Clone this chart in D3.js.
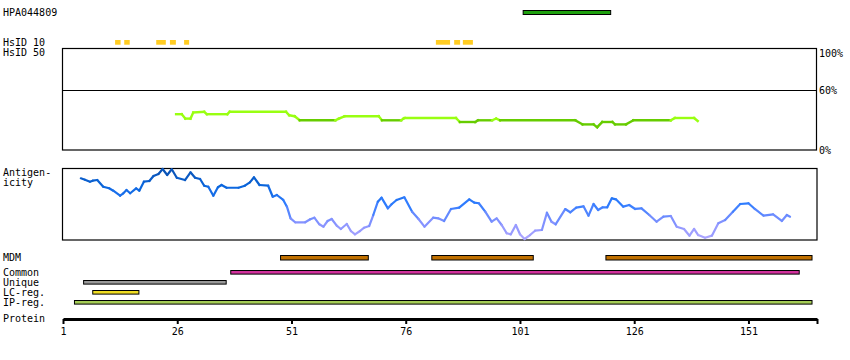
<!DOCTYPE html>
<html>
<head>
<meta charset="utf-8">
<script src="https://cdn.jsdelivr.net/npm/d3@7/dist/d3.min.js"></script>
<style>
  html, body { margin: 0; padding: 0; background: #fff; }
  svg text { font-family: "DejaVu Sans Mono", monospace; font-size: 10px; fill: #000; }
</style>
</head>
<body>
<svg id="chart" width="850" height="360"></svg>
<script>
// ---------------- data ----------------
const proteinLength = 165;
const axisTicks = [1, 26, 51, 76, 101, 126, 151];
const percentTicks = [0, 60, 100];

const antibodyName = "HPA044809";
const antibodyRegion = [101.7, 120.85];

const hsid10Segments = [[12.4, 13.6], [14.4, 15.6], [21.4, 23.5], [24.4, 25.7], [27.5, 28.6],
                        [82.6, 85.7], [86.6, 87.9], [88.5, 90.7]];

// similarity (% identity) [residue, value]
const similarity = [[25.75,35.8],[27.0,35.8],[27.76,31.4],[28.9,31.4],[29.5,37.5],[31.9,38.2],[32.5,35.8],
  [36.95,35.8],[37.5,38.2],[49.8,38.2],[50.5,34.8],[51.7,33.7],[52.8,29.7],[60.6,29.7],[61.35,31.4],
  [62.6,33.7],[70.1,33.7],[70.8,29.7],[75.0,29.7],[75.5,31.4],[75.8,32],[87.0,32],[87.85,28],[91.2,28],
  [91.8,29.7],[94.9,29.7],[95.8,31.4],[96.65,29.7],[113.1,29.7],[114.7,25.6],[117.1,25.6],[117.9,22.8],
  [119.0,28],[121.2,28],[121.8,25.6],[124.2,25.6],[125.8,29.7],[134.0,29.7],[134.9,32],[139.1,32],[139.9,29]];

// antigenicity score [residue, value]
const antigenicity = [[4.9,85.7],[5.8,83.7],[6.9,81.0],[7.5,82.4],[8.5,83.3],[9.8,74.0],[11.1,71.8],[12.0,68.5],
  [13.5,61.5],[14.2,64.9],[14.9,69.4],[15.7,64.9],[17.0,71.8],[17.7,68.5],[18.7,81.0],[19.9,81.9],[20.8,88.9],
  [21.9,91.7],[22.8,98.6],[23.8,90.3],[24.8,98.2],[25.9,86.5],[27.7,83.3],[28.9,94.0],[29.9,86.5],[31.0,84.7],
  [31.9,75.4],[32.8,74.0],[33.9,61.5],[34.9,73.2],[35.7,76.4],[36.8,72.6],[39.4,72.6],[40.8,75.4],[41.9,80.1],
  [42.8,87.1],[44.0,76.4],[45.9,75.4],[46.9,60.1],[47.8,62.5],[49.2,55.6],[50.0,46.3],[50.8,30.1],[51.8,24.6],
  [54.0,24.6],[55.1,28.8],[56.0,31.0],[57.1,21.8],[58.0,18.5],[58.9,26.4],[59.8,29.2],[60.9,19.9],[61.8,15.3],
  [63.1,22.2],[64.0,12.5],[64.9,7.9],[66.0,12.5],[66.9,17.1],[68.0,19.4],[68.9,34.7],[69.9,53.2],[70.7,58.8],
  [72.1,44.0],[72.9,49.6],[74.0,55.6],[75.7,59.3],[77.4,39.3],[78.8,29.2],[80.1,18.5],[82.0,31.0],[83.1,30.1],
  [84.4,26.4],[85.9,43.1],[87.7,44.9],[89.9,56.5],[91.0,51.8],[92.0,51.0],[93.4,39.3],[94.8,25.4],[95.9,30.1],
  [97.0,20.8],[98.1,9.3],[99.0,7.9],[100.1,20.8],[101.0,7.9],[102.0,1.4],[103.2,6.9],[104.3,12.9],[105.8,13.9],
  [106.9,37.9],[107.9,25.4],[108.8,21.8],[110.9,43.0],[112.0,38.5],[113.3,44.9],[114.9,46.8],[116.0,33.8],
  [117.1,50.0],[118.1,41.7],[119.1,45.4],[120.1,45.4],[121.1,57.9],[122.0,56.5],[123.6,46.3],[124.9,48.6],
  [126.2,43.1],[127.6,44.0],[129.3,34.7],[130.9,25.4],[132.4,32.4],[134.0,33.3],[135.3,18.5],[136.9,15.3],
  [138.1,6.0],[139.1,15.3],[140.0,6.9],[141.5,3.2],[143.0,6.0],[144.4,23.2],[145.9,27.8],[147.6,39.3],
  [149.2,50.0],[151.0,51.0],[152.4,43.1],[154.3,33.8],[156.4,35.7],[158.3,26.4],[159.4,34.7],[160.1,32.4]];

// feature tracks
const mdmSegments = [[48.5, 67.7], [81.6, 103.8], [119.7, 164.8]];
const commonSegments = [[37.6, 162.0]];
const uniqueSegments = [[5.4, 36.6]];
const lcRegSegments = [[7.4, 17.5]];
const ipRegSegments = [[3.4, 164.8]];

// ---------------- drawing ----------------
const svg = d3.select("#chart");
const x = d3.scaleLinear().domain([1, proteinLength + 1]).range([63, 817]);
const yPct = d3.scaleLinear().domain([0, 100]).range([150, 50]);
const yAnt = d3.scaleLinear().domain([0, 100]).range([240, 168]);

// left labels
const labels = [
  [antibodyName, 16], ["HsID 10", 45.5], ["HsID 50", 56], ["Antigen-", 176], ["icity", 186],
  ["MDM", 261], ["Common", 276], ["Unique", 286], ["LC-reg.", 296], ["IP-reg.", 306], ["Protein", 322]
];
svg.selectAll("text.lbl").data(labels).join("text").attr("class", "lbl")
  .attr("x", 3).attr("y", d => d[1]).text(d => d[0]);

// antibody bar
svg.append("rect")
  .attr("x", x(antibodyRegion[0])).attr("y", 10.5)
  .attr("width", x(antibodyRegion[1]) - x(antibodyRegion[0])).attr("height", 4)
  .attr("fill", "#1ea00e").attr("stroke", "#000").attr("stroke-width", 1);

// HsID 10 marks
svg.selectAll("rect.hs").data(hsid10Segments).join("rect").attr("class", "hs")
  .attr("x", d => x(d[0])).attr("y", 40).attr("width", d => x(d[1]) - x(d[0])).attr("height", 4.7)
  .attr("fill", "#ffcc22");

// similarity panel
svg.append("rect").attr("x", 62.5).attr("y", 48.5).attr("width", 754).attr("height", 101.5)
  .attr("fill", "none").attr("stroke", "#000").attr("stroke-width", 1.2);
svg.append("line").attr("x1", 62.5).attr("x2", 816.5).attr("y1", Math.round(yPct(60)) + 0.5).attr("y2", Math.round(yPct(60)) + 0.5)
  .attr("stroke", "#000").attr("stroke-width", 1.2);

const simSegs = d3.pairs(similarity);
svg.append("g").selectAll("line").data(simSegs).join("line")
  .attr("x1", d => x(d[0][0])).attr("y1", d => yPct(d[0][1]))
  .attr("x2", d => x(d[1][0])).attr("y2", d => yPct(d[1][1]))
  .attr("stroke", d => Math.max(d[0][1], d[1][1]) > 31 ? "#99ff11" : "#66cc00")
  .attr("stroke-width", 2.4).attr("stroke-linecap", "square");

const pctAxis = svg.append("g").attr("transform", "translate(817,0)")
  .call(d3.axisRight(yPct).tickValues(percentTicks).tickSize(0).tickPadding(2).tickFormat(d => d + "%"));
pctAxis.select(".domain").remove();
pctAxis.selectAll("text").style("font-family", "DejaVu Sans Mono").style("font-size", "10px")
  .attr("dy", d => d === 100 ? "0.62em" : "0.36em");

// antigenicity panel
svg.append("rect").attr("x", 62.5).attr("y", 168.5).attr("width", 754.5).attr("height", 71.5)
  .attr("fill", "none").attr("stroke", "#000").attr("stroke-width", 1.2);
const antColor = d3.scaleLinear().domain([0, 25, 50, 75, 100])
  .range(["#b2a8ff", "#8492ff", "#2f7cff", "#0a66dd", "#0a4fae"]);
svg.append("g").selectAll("line").data(d3.pairs(antigenicity)).join("line")
  .attr("x1", d => x(d[0][0])).attr("y1", d => yAnt(d[0][1]))
  .attr("x2", d => x(d[1][0])).attr("y2", d => yAnt(d[1][1]))
  .attr("stroke", d => antColor((d[0][1] + d[1][1]) / 2))
  .attr("stroke-width", 2.2).attr("stroke-linecap", "round");

// feature tracks
const tracks = [
  [mdmSegments, 255.5, 4.5, "#c07000"],
  [commonSegments, 270.5, 3.6, "#d1309c"],
  [uniqueSegments, 280.5, 3.6, "#999999"],
  [lcRegSegments, 290.5, 3.6, "#f0dd22"],
  [ipRegSegments, 300.5, 3.6, "#a4cc55"]
];
tracks.forEach(([segs, y, h, col]) => {
  svg.append("g").selectAll("rect").data(segs).join("rect")
    .attr("x", d => x(d[0]) + 0.5).attr("y", y)
    .attr("width", d => x(d[1]) - x(d[0])).attr("height", h)
    .attr("fill", col).attr("stroke", "#000").attr("stroke-width", 1);
});

// protein axis
const ax = svg.append("g").attr("transform", "translate(0,319)")
  .call(d3.axisBottom(x).tickValues(axisTicks.concat([proteinLength + 1]))
    .tickFormat(d => d === proteinLength + 1 ? "" : d).tickSize(5).tickSizeOuter(0).tickPadding(4));
ax.select(".domain").attr("stroke", "#000").attr("stroke-width", 3);
ax.selectAll(".tick line").attr("stroke", "#000").attr("stroke-width", 2);
ax.selectAll(".tick text").style("font-family", "DejaVu Sans Mono").style("font-size", "10px");
</script>
</body>
</html>
